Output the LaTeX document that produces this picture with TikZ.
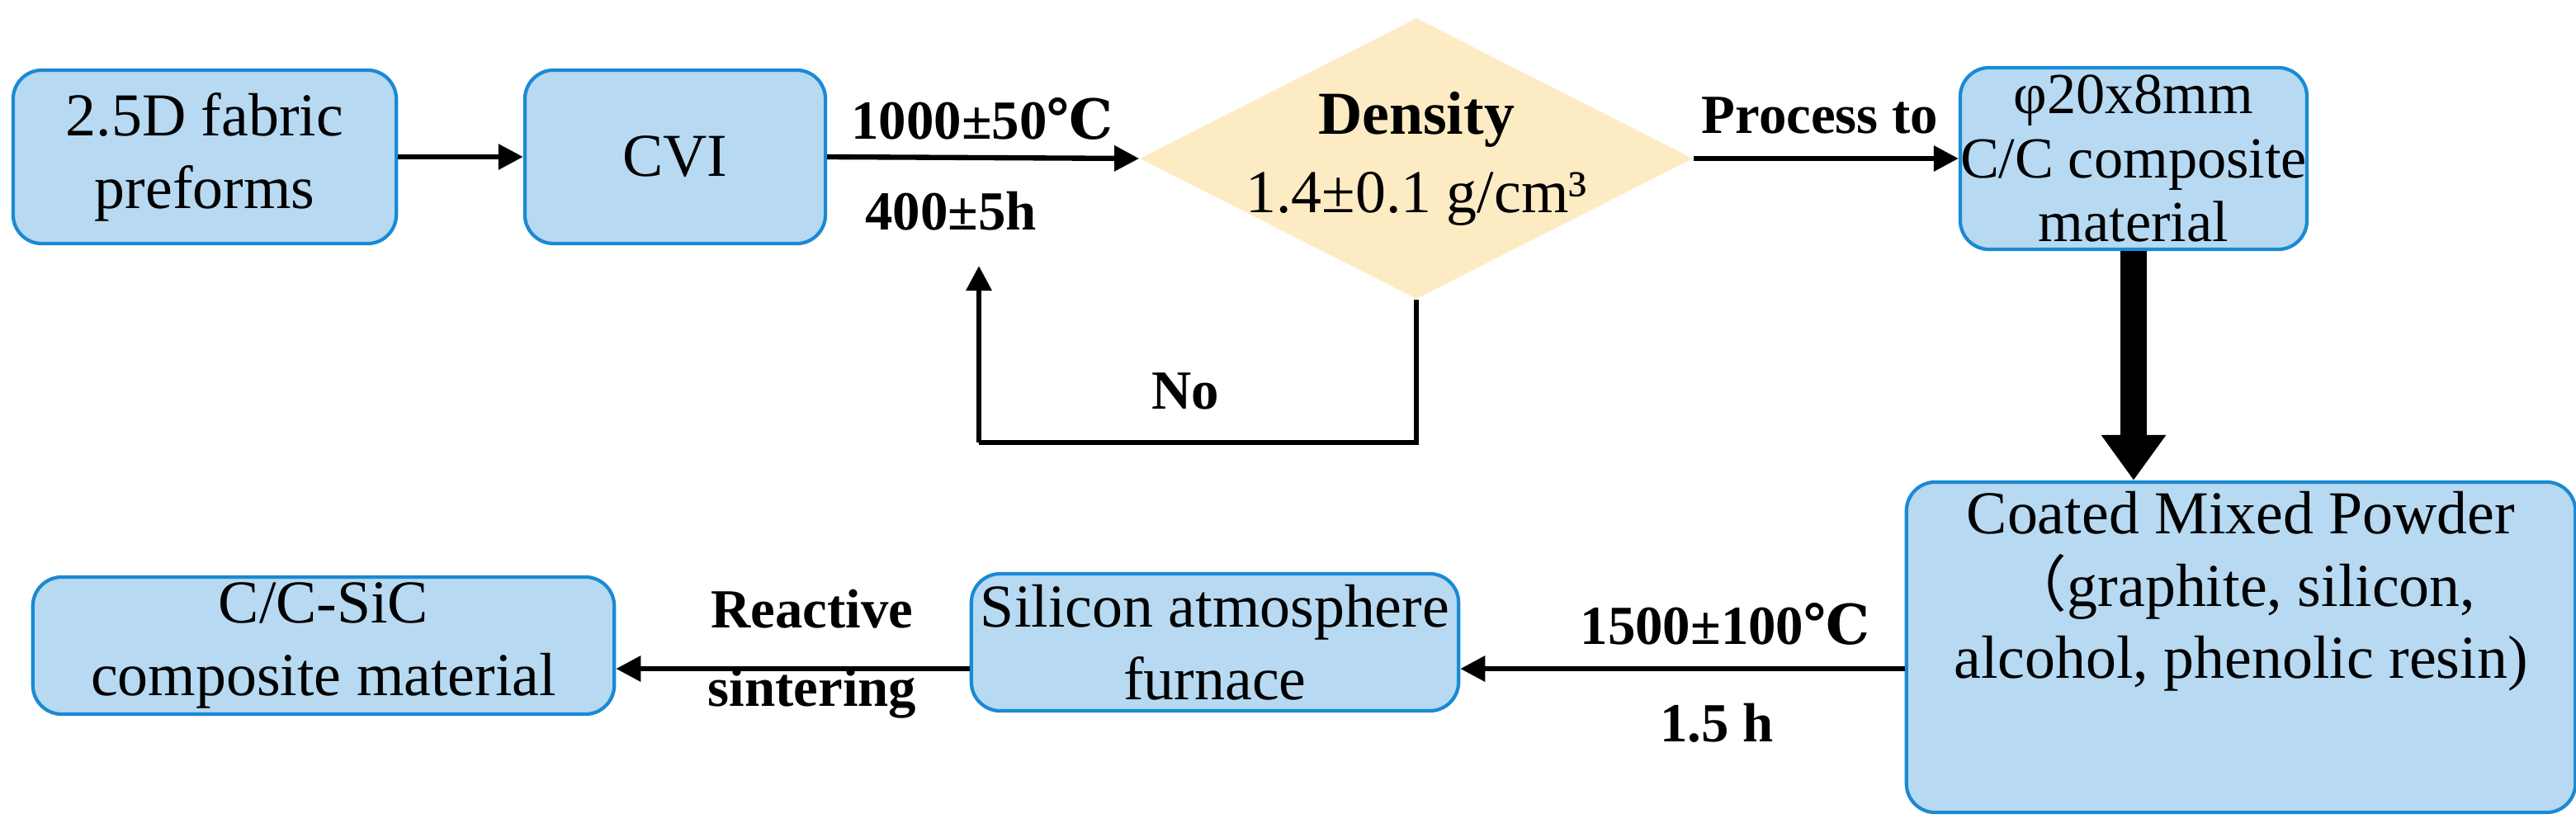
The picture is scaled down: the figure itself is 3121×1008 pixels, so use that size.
\documentclass[tikz,border=0pt]{standalone}
\usepackage{fontspec}
\setmainfont{Liberation Serif}
\newfontfamily\djv{DejaVu Serif}
\newfontfamily\cjk{Noto Sans CJK SC}
\usetikzlibrary{shapes.geometric,arrows.meta}
\definecolor{boxfill}{HTML}{B7D9F1}
\definecolor{boxline}{HTML}{1A8AD4}
\definecolor{dfill}{HTML}{FDEBC4}
\newcommand{\degC}{{\djv ℃}}
\tikzset{
 proc/.style={draw=boxline,line width=1.2pt,fill=boxfill,rounded corners=0.35cm,align=center,font=\fontsize{21}{25}\selectfont,inner sep=0pt},
 lab/.style={font=\bfseries\fontsize{19}{23}\selectfont,inner sep=0pt},
 arr/.style={-{Triangle[length=0.3cm,width=0.3cm]},line width=1.8pt}
}
\begin{document}
\begin{tikzpicture}[x=0.01cm,y=-0.01cm]
\useasboundingbox (0,0) rectangle (3121,1008);
\node[proc,minimum width=4.64cm,minimum height=2.1cm] (a) at (248,190) {2.5D fabric\\preforms};
\node[proc,minimum width=3.64cm,minimum height=2.1cm] (cvi) at (818,190) {CVI};
\node[diamond,fill=dfill,minimum width=6.7cm,minimum height=3.4cm,aspect=2,inner sep=0pt] (d) at (1716,192) {};
\node[align=center,font=\fontsize{21}{27}\selectfont] (dt) at (1716,192) {\textbf{Density}\\1.4±0.1 g/cm³};
\node[proc,minimum width=3.8cm,minimum height=2.2cm,font=\fontsize{20}{22}\selectfont] (cc) at (2585,192) {φ20x8mm\\C/C composite\\material};
\node[proc,minimum width=8.1cm,minimum height=4cm] (cm) at (2715,784) {Coated Mixed Powder\\{\cjk （}graphite, silicon,\\alcohol, phenolic resin)\\[18pt]};
\node[proc,minimum width=5.9cm,minimum height=1.66cm] (si) at (1472,778) {Silicon atmosphere\\furnace};
\node[proc,minimum width=7.04cm,minimum height=1.66cm] (sic) at (392,782) {C/C-SiC\\composite material};
\coordinate (p2) at (1186,536);
\coordinate (p3) at (1186,322);
\draw[arr] (a.east) -- (cvi.west);
\draw[arr] (cvi.east) -- (d.west);
\draw[arr] (d.east) -- (cc.west);
\draw[line width=1.8pt] (d.south) |- (p2);
\draw[arr] (p2) -- (p3);
\draw[-{Triangle[length=0.55cm,width=0.75cm]},line width=0.32cm] (cc.south) -- (cm.north -| cc.south);
\draw[arr] (cm.west |- 0,810) -- (si.east |- 0,810);
\draw[arr] (si.west |- 0,810) -- (sic.east |- 0,810);
\node[lab] (l1) at (1190,144) {1000±50\degC};
\node[lab] (l2) at (1152,256) {400±5h};
\node[lab] (l3) at (2205,140) {Process to};
\node[lab] (l4) at (1436,474) {No};
\node[lab] (l5) at (2090,756) {1500±100\degC};
\node[lab] (l6) at (2080,876) {1.5 h};
\node[lab,align=center,font=\bfseries\fontsize{19}{27}\selectfont] (l7) at (984,792) {Reactive\\sintering};
\end{tikzpicture}
\end{document}
